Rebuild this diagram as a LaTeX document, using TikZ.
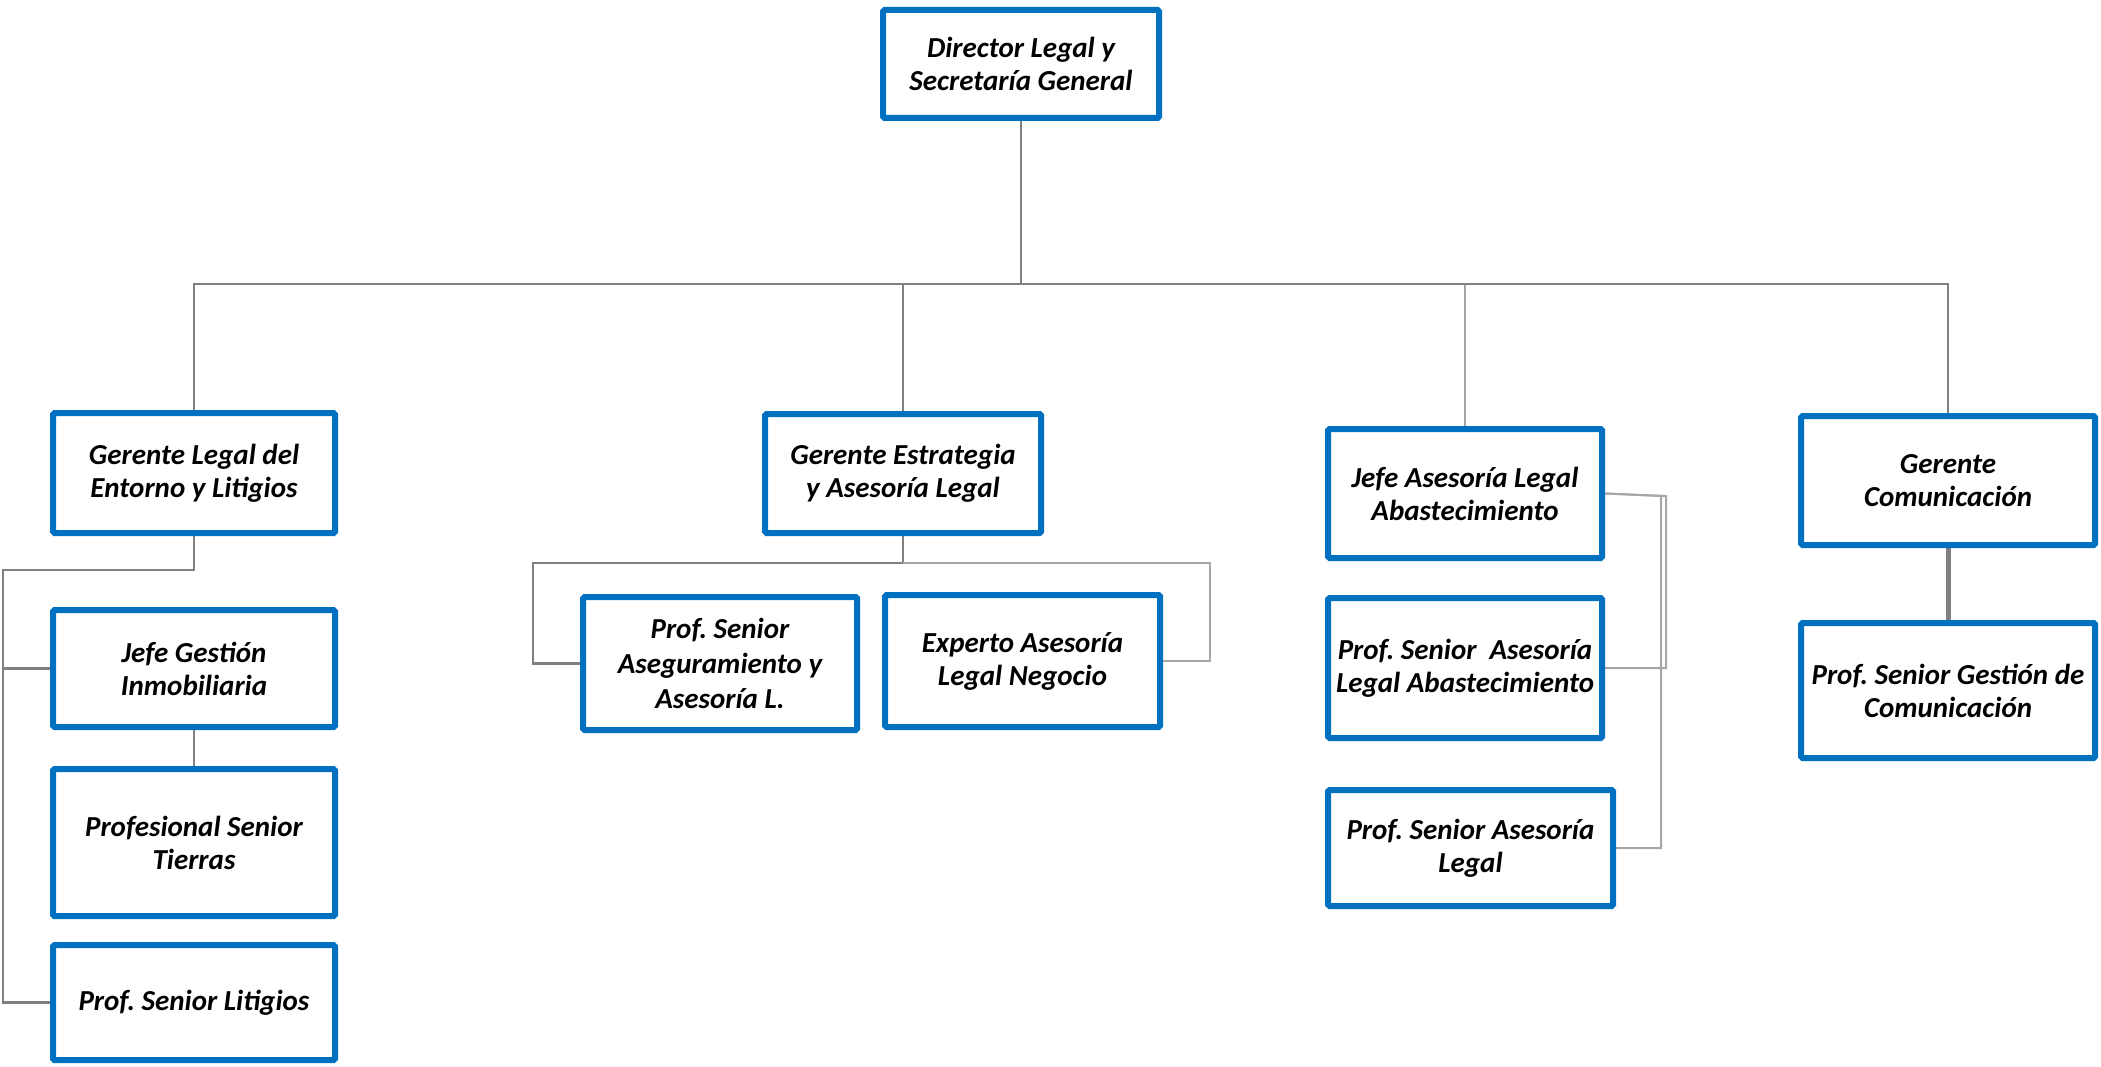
\documentclass[tikz,border=0pt]{standalone}
\usepackage{fontspec}
\setmainfont{Carlito}
\usetikzlibrary{backgrounds}
\definecolor{boxblue}{HTML}{0070C0}
\definecolor{linegrey}{HTML}{808080}
\definecolor{lightgrey}{HTML}{A6A6A6}
\begin{document}
\frenchspacing
\begin{tikzpicture}[x=1pt,y=-1pt,
  box/.style={draw=boxblue, line width=6pt, rounded corners=1.5pt, fill=white,
    align=center, inner sep=0pt, font=\fontsize{29}{33}\selectfont\bfseries\itshape},
  link/.style={draw=linegrey, line width=2.5pt},
  lightlink/.style={draw=lightgrey, line width=2pt}]
\useasboundingbox (0,0) rectangle (2101,1067);

\node[box, minimum width=276pt, minimum height=108pt] (dir) at (1021,64) {Director Legal y\\Secretaría General};

\node[box, minimum width=282pt, minimum height=120pt] (gl) at (194,473) {Gerente Legal del\\Entorno y Litigios};
\node[box, minimum width=282pt, minimum height=117pt] (jg) at (194,668.5) {Jefe Gestión\\Inmobiliaria};
\node[box, minimum width=282pt, minimum height=147pt] (pst) at (194,842.5) {Profesional Senior\\Tierras};
\node[box, minimum width=282pt, minimum height=115pt] (psl) at (194,1002.5) {Prof. Senior Litigios};

\node[box, minimum width=276pt, minimum height=119pt] (ge) at (903,473.5) {Gerente Estrategia\\y Asesoría Legal};
\node[box, minimum width=274pt, minimum height=133pt, font=\fontsize{29}{35}\selectfont\bfseries\itshape] (psa) at (720,663.5) {Prof. Senior\\Aseguramiento y\\Asesoría L.};
\node[box, minimum width=275pt, minimum height=132pt] (exp) at (1022.5,661) {Experto Asesoría\\Legal Negocio};

\node[box, minimum width=274pt, minimum height=129pt] (jal) at (1465,493.5) {Jefe Asesoría Legal\\Abastecimiento};
\node[box, minimum width=274pt, minimum height=140pt] (psal) at (1465,668) {Prof. Senior\ \ Asesoría\\Legal Abastecimiento};
\node[box, minimum width=285pt, minimum height=116pt] (psl2) at (1470.5,848) {Prof. Senior Asesoría\\Legal};

\node[box, minimum width=294pt, minimum height=129pt] (gc) at (1948,480.5) {Gerente\\Comunicación};
\node[box, minimum width=294pt, minimum height=135pt] (psgc) at (1948,690.5) {Prof. Senior Gestión de\\Comunicación};

\begin{scope}[on background layer]
  \coordinate (hub) at (1021,284);
  \draw[link] (dir.south) -- (hub);
  \draw[link] (hub) -| (gl.north);
  \draw[link] (hub) -| (ge.north);
  \draw[lightlink] (hub) -| (jal.north);
  \draw[link] (hub) -| (gc.north);

  \coordinate (gla) at (3,570);
  \draw[link] (gl.south) |- (gla) -- (gla |- psl.west) -- (psl.west);
  \draw[link] (gla |- jg.west) -- (jg.west);
  \draw[link] (jg.south) -- (pst.north);

  \coordinate (gel) at (533,563);
  \coordinate (ger) at (1210,563);
  \draw[link] (ge.south) -- (ge.south |- gel);
  \draw[link] (psa.west) -| (gel) -- (ge.south |- gel);
  \draw[lightlink] (ge.south |- gel) -- (ger) |- (exp.east);

  \coordinate (ab1) at (1666,496);
  \coordinate (ab2) at (1661,496);
  \draw[lightlink] (jal.east) -- (ab1) |- (psal.east);
  \draw[lightlink] (jal.east) -- (ab2) |- (psl2.east);

  \draw[link, line width=5pt] (gc.south) -- (psgc.north);
\end{scope}
\end{tikzpicture}
\end{document}
